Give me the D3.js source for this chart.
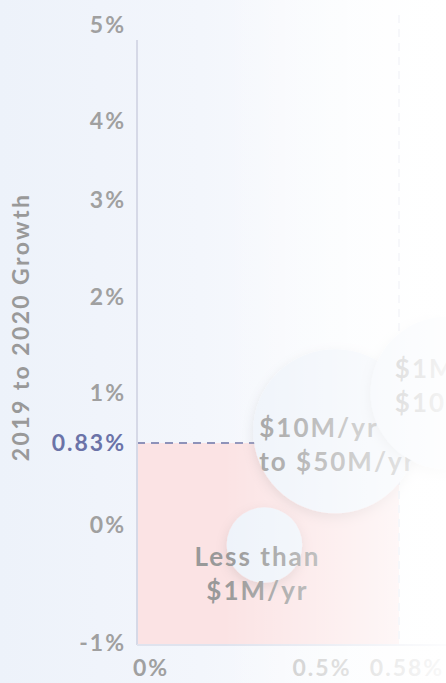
<!DOCTYPE html>
<html>
<head>
<meta charset="utf-8">
<script src="https://cdn.jsdelivr.net/npm/d3@7"></script>
<style>
  html, body { margin: 0; padding: 0; background: #fff; overflow: hidden; }
  svg { display: block; font-family: "Lato", "DejaVu Sans", sans-serif; font-weight: 700; }
</style>
</head>
<body>
<script>
// revenue bands and their growth figures
var bands = ["Less than $1M/yr", "$10M/yr to $50M/yr", "$1M/yr to $10M/yr"];
var bandLines = [["Less than", "$1M/yr"], ["$10M/yr", "to $50M/yr"], ["$1M/yr to", "$10M/yr"]];
var shareGrowth = [0.36, 0.52, 0.625];   // x, percent
var revGrowth = [-0.17, 0.87, 1.0];      // y, percent
var bandCount = [14, 66, 57];            // bubble size

var yTicks = [-1, 0, 1, 2, 3, 4, 5];
var xTicks = [0, 0.5, 0.58];
var medianY = 0.83;
var medianX = 0.58;

var width = 446, height = 683;

var svg = d3.select("body").append("svg")
    .attr("width", width)
    .attr("height", height);

var defs = svg.append("defs");

var bg = defs.append("linearGradient").attr("id", "bg");
bg.append("stop").attr("offset", "0%").attr("stop-color", "#edf2fa");
bg.append("stop").attr("offset", "45%").attr("stop-color", "#f3f6fc");
bg.append("stop").attr("offset", "100%").attr("stop-color", "#ffffff");

var fade = defs.append("linearGradient").attr("id", "fade");
fade.append("stop").attr("offset", "50%").attr("stop-color", "#fff").attr("stop-opacity", 0);
fade.append("stop").attr("offset", "100%").attr("stop-color", "#fff").attr("stop-opacity", 0.9);

var shadow = defs.append("filter").attr("id", "shadow")
    .attr("x", "-30%").attr("y", "-30%").attr("width", "160%").attr("height", "160%");
shadow.append("feDropShadow")
    .attr("dx", 0).attr("dy", 4).attr("stdDeviation", 6)
    .attr("flood-color", "#000").attr("flood-opacity", 0.1);

svg.append("rect")
    .attr("width", width).attr("height", height)
    .attr("fill", "url(#bg)");

// the axes are not linear in the original, so piecewise scales
var yScale = d3.scaleLinear()
    .domain([-1, 0, 0.83, 1, 2, 3, 4, 5])
    .range([643, 525, 443, 393, 297, 200, 121, 25]);

var xScale = d3.scaleLinear()
    .domain([0, 0.5, 0.58])
    .range([137, 314, 399]);

var rScale = d3.scaleSqrt()
    .domain([0, d3.max(bandCount)])
    .range([0, 82]);

var plotTop = 40, plotBottom = 645;

// quadrant below the medians
svg.append("rect")
    .attr("x", xScale(0))
    .attr("y", yScale(medianY))
    .attr("width", xScale(medianX) - xScale(0))
    .attr("height", plotBottom - yScale(medianY))
    .attr("fill", "#fbe3e4");

svg.append("line")
    .attr("x1", xScale(medianX)).attr("x2", xScale(medianX))
    .attr("y1", 15).attr("y2", plotBottom - 4)
    .attr("stroke", "#e1e3ef")
    .attr("stroke-width", 2)
    .attr("stroke-dasharray", "8 6");

svg.append("line")
    .attr("x1", xScale(0)).attr("x2", xScale(medianX))
    .attr("y1", yScale(medianY)).attr("y2", yScale(medianY))
    .attr("stroke", "#8e92b9")
    .attr("stroke-width", 2)
    .attr("stroke-dasharray", "8 6");

// axis lines
svg.append("line")
    .attr("x1", xScale(0)).attr("x2", xScale(0))
    .attr("y1", plotTop).attr("y2", plotBottom)
    .attr("stroke", "#d6d9e7").attr("stroke-width", 2);

svg.append("line")
    .attr("x1", xScale(0)).attr("x2", width)
    .attr("y1", plotBottom).attr("y2", plotBottom)
    .attr("stroke", "#dfe3ee").attr("stroke-width", 2);

// y tick labels
svg.append("g").selectAll("text")
    .data(yTicks)
    .join("text")
    .attr("x", 126)
    .attr("y", function(d) { return yScale(d); })
    .attr("dy", "0.36em")
    .attr("text-anchor", "end")
    .attr("font-size", 23)
    .attr("letter-spacing", 2)
    .attr("fill", "#a0a0a0")
    .text(function(d) { return d + "%"; });

svg.append("text")
    .attr("x", 126)
    .attr("y", yScale(medianY))
    .attr("dy", "0.36em")
    .attr("text-anchor", "end")
    .attr("font-size", 23)
    .attr("letter-spacing", 2)
    .attr("fill", "#6b73a8")
    .text(medianY + "%");

// x tick labels
svg.append("g").selectAll("text")
    .data(xTicks)
    .join("text")
    .attr("x", function(d, i) { return i == 0 ? xScale(d) - 4 : xScale(d) + 8; })
    .attr("y", 668)
    .attr("dy", "0.36em")
    .attr("text-anchor", function(d, i) { return i == 0 ? "start" : "middle"; })
    .attr("font-size", 23)
    .attr("letter-spacing", 2)
    .attr("fill", function(d, i) { return i == 0 ? "#a0a0a0" : "#c4c4c4"; })
    .text(function(d) { return d + "%"; });

svg.append("text")
    .attr("transform", "translate(21," + 327 + ") rotate(-90)")
    .attr("dy", "0.36em")
    .attr("text-anchor", "middle")
    .attr("font-size", 23)
    .attr("letter-spacing", 2.4)
    .attr("fill", "#999")
    .text("2019 to 2020 Growth");

// bubbles
var labelLayout = [
    { dx: -7, dy: 21, anchor: "middle" },
    { dx: -76, dy: 6, anchor: "start" },
    { dx: -52, dy: -15, anchor: "start" }
];

var bubble = svg.append("g").selectAll("g")
    .data(bands)
    .join("g");

bubble.append("circle")
    .attr("cx", function(d, i) { return xScale(shareGrowth[i]); })
    .attr("cy", function(d, i) { return yScale(revGrowth[i]); })
    .attr("r", function(d, i) { return rScale(bandCount[i]); })
    .attr("fill", "#eef3fa")
    .attr("filter", "url(#shadow)");

bubble.append("text")
    .attr("x", function(d, i) { return xScale(shareGrowth[i]) + labelLayout[i].dx; })
    .attr("y", function(d, i) { return yScale(revGrowth[i]) + labelLayout[i].dy; })
    .attr("text-anchor", function(d, i) { return labelLayout[i].anchor; })
    .attr("font-size", 26)
    .attr("letter-spacing", 2)
    .attr("fill", "#999")
    .each(function(d, i) {
        var t = d3.select(this);
        var x = t.attr("x");
        bandLines[i].forEach(function(line, j) {
            t.append("tspan")
                .attr("x", x)
                .attr("dy", j == 0 ? 0 : 34)
                .text(line);
        });
    });

// right side fades out
svg.append("rect")
    .attr("width", width).attr("height", height)
    .attr("fill", "url(#fade)");
</script>
</body>
</html>
